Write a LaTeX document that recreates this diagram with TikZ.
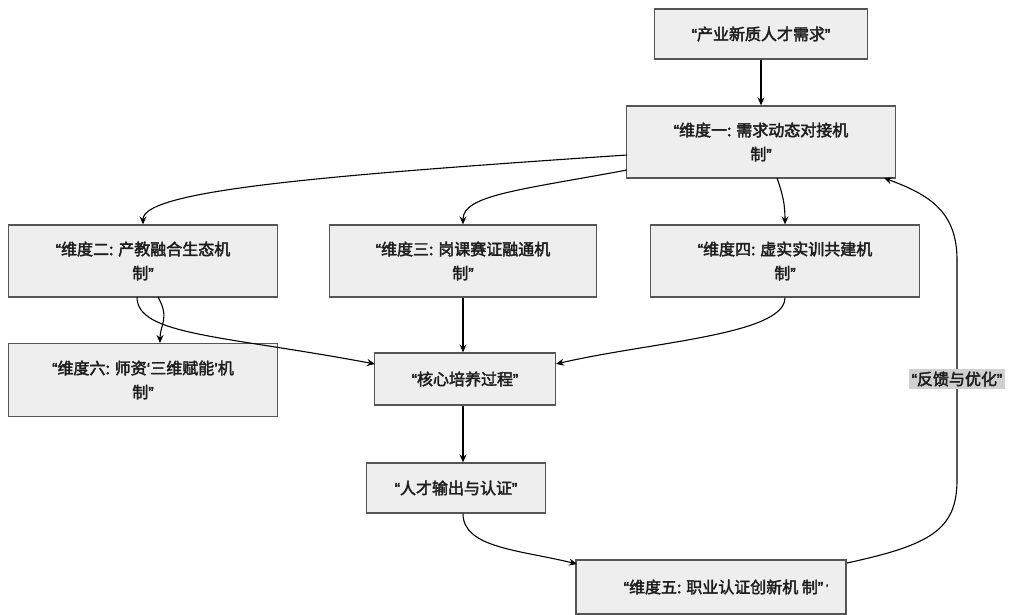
\documentclass[tikz,border=0pt]{standalone}
\usepackage{fontspec}
\setmainfont[FakeBold=2.5]{Noto Sans CJK SC}
\newfontfamily\qfont[FakeBold=2.5]{Liberation Sans}
\newcommand{\oq}{{\qfont “}}
\newcommand{\cq}{{\qfont ”}}
\newcommand{\osq}{{\qfont ‘}}
\newcommand{\csq}{{\qfont ’}}
\usetikzlibrary{arrows.meta}
\definecolor{boxfill}{HTML}{EEEEEE}
\definecolor{boxline}{HTML}{555555}
\definecolor{lblfill}{HTML}{D0D0D0}
\definecolor{txt}{HTML}{1E1E1E}
\tikzset{
  box/.style={draw=boxline, line width=1.3pt, fill=boxfill, align=center, text=txt, font=\fontsize{16}{24}\selectfont, inner sep=0pt},
  conn/.style={line width=1.1pt, -{Stealth[length=8pt,width=7pt]}},
  lbl/.style={fill=lblfill, inner sep=3pt, text=txt, font=\fontsize{16}{18}\selectfont}
}
\begin{document}
\begin{tikzpicture}[x=1pt,y=-1pt]
\useasboundingbox[fill=white] (0,0) rectangle (1014,615);
\node[box, minimum width=213pt, minimum height=50pt] (n0) at (761,34) {\oq 产业新质人才需求\cq};
\node[box, minimum width=269pt, minimum height=72pt] (n1) at (761,142) {\oq 维度一: 需求动态对接机\\制\cq};
\node[box, minimum width=269pt, minimum height=72pt] (n2) at (143,261) {\oq 维度二: 产教融合生态机\\制\cq};
\node[box, minimum width=267pt, minimum height=72pt] (n3) at (463,261) {\oq 维度三: 岗课赛证融通机\\制\cq};
\node[box, minimum width=269pt, minimum height=72pt] (n4) at (785,261) {\oq 维度四: 虚实实训共建机\\制\cq};
\node[box, minimum width=269pt, minimum height=73pt] (n6) at (143,380) {\oq 维度六: 师资\osq 三维赋能\csq 机\\制\cq};
\node[box, minimum width=181pt, minimum height=52pt] (core) at (465,379) {\oq 核心培养过程\cq};
\node[box, minimum width=179pt, minimum height=50pt] (out) at (456,488) {\oq 人才输出与认证\cq};
\node[box, minimum width=270pt, minimum height=54pt] (n5) at (711,587) {\hspace*{30pt}\oq 维度五: 职业认证创新机 制\cq\,{\qfont\fontsize{11}{11}\selectfont\raisebox{1pt}{’}}};

\coordinate (n1w1) at (627,155);
\coordinate (n1w2) at (627,170);
\coordinate (n1b) at (777,178);
\coordinate (n1fb) at (884,178);
\coordinate (n2b1) at (158,297);
\coordinate (n2b2) at (137,297);
\coordinate (n6t) at (160,343);
\coordinate (corel) at (375,364);
\coordinate (corer) at (556,364);
\coordinate (n5l) at (577,564);
\coordinate (n5r) at (847,563);

\draw[conn] (n0.south) -- (n1.north);
\draw[conn] (n1w1) .. controls (330,175) and (143,190) .. (n2.north);
\draw[conn] (n1w2) .. controls (520,190) and (463,195) .. (n3.north);
\draw[conn] (n1b) .. controls (783,195) and (785,205) .. (n4.north);
\draw[conn] (n2b1) .. controls (170,318) and (160,325) .. (n6t);
\draw[conn] (n2b2) .. controls (137,335) and (220,335) .. (corel);
\draw[conn] (n3.south) -- (n3.south |- core.north);
\draw[conn] (n4.south) .. controls (785,335) and (650,342) .. (corer);
\draw[conn] (core.south -| out.north) ++(7,0) coordinate (cs) (cs) -- (cs |- out.north);
\draw[conn] (out.south -| cs) .. controls (463,548) and (520,550) .. (n5l);
\draw[conn] (n5r) .. controls (930,545) and (957,530) .. (957,480) -- (957,260) .. controls (957,212) and (930,195) .. (n1fb);
\node[lbl] (fb) at (957,379) {\oq 反馈与优化\cq};
\end{tikzpicture}
\end{document}
